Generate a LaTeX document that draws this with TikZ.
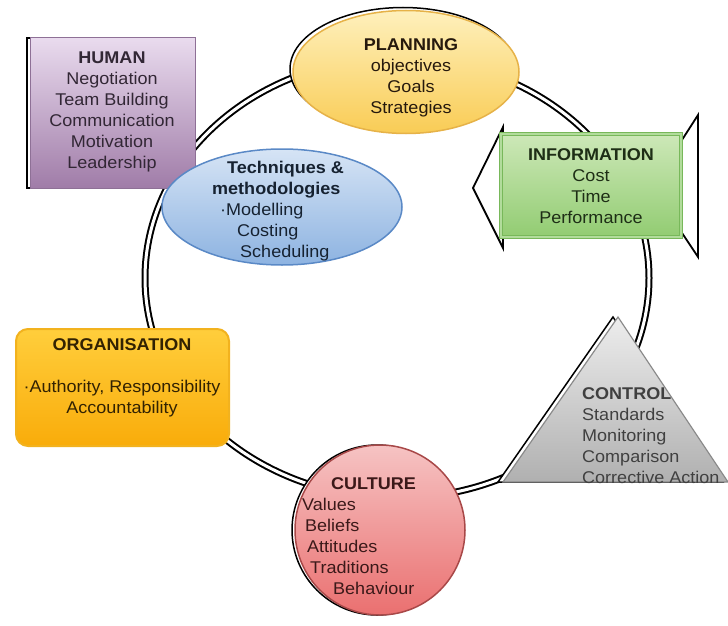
\documentclass[tikz,border=0pt]{standalone}
\usepackage{fontspec}
\setmainfont{Liberation Sans}[FakeStretch=1.06]
\usepackage{xcolor}
\usetikzlibrary{positioning,shapes.geometric,shadows}

\definecolor{humantop}{HTML}{E9DBEE}
\definecolor{humanbot}{HTML}{A07CA8}
\definecolor{humanedge}{HTML}{8E7096}
\definecolor{plantop}{HTML}{FEF0BC}
\definecolor{planbot}{HTML}{F9CC55}
\definecolor{planedge}{HTML}{E6B248}
\definecolor{infotop}{HTML}{CDE8B8}
\definecolor{infobot}{HTML}{92CC72}
\definecolor{infoedge}{HTML}{78B85A}
\definecolor{infolight}{HTML}{B2DC9C}
\definecolor{techtop}{HTML}{D6E4F5}
\definecolor{techbot}{HTML}{8DB3E1}
\definecolor{techedge}{HTML}{5A89C6}
\definecolor{orgtop}{HTML}{FFCE3C}
\definecolor{orgbot}{HTML}{F9AC0A}
\definecolor{orgedge}{HTML}{F2B21E}
\definecolor{cultop}{HTML}{F6C3C3}
\definecolor{culbot}{HTML}{EA7070}
\definecolor{culedge}{HTML}{A84848}
\definecolor{ctrltop}{HTML}{EDEDED}
\definecolor{ctrlbot}{HTML}{B0B0B0}
\definecolor{ctrledge}{HTML}{8A8A8A}

\begin{document}
\begin{tikzpicture}[x=1pt,y=-1pt,font=\fontsize{17}{21}\selectfont]
    \useasboundingbox (0,0) rectangle (728,626);

    % the cycle
    \node[ellipse,draw=black,double=white,line width=2pt,double distance=3pt,
          minimum width=504pt,minimum height=440pt,inner sep=0pt] (ring) at (397,278) {};

    % brackets either side of the information box
    \draw[line width=1.8pt,fill=white] (503,127) -- (473,188) -- (503,248) -- cycle;
    \draw[line width=1.8pt,fill=white] (680,143) -- (698,115) -- (698,257) -- (680,230) -- cycle;

    % control pyramid
    \draw[draw=ctrledge,line width=1.2pt,top color=ctrltop,bottom color=ctrlbot,
          copy shadow={shadow xshift=-5pt,shadow yshift=0pt,opacity=1,fill=white,draw=black,line width=1.5pt}]
        (618,317) -- (728,482) -- (503,482) -- cycle;

    \begin{scope}[every node/.style={inner sep=0pt}]
        \node[draw=humanedge,line width=1pt,top color=humantop,bottom color=humanbot,
              minimum width=165pt,minimum height=150pt,
              copy shadow={shadow xshift=-3pt,shadow yshift=0pt,opacity=1,fill=white,draw=black,line width=2pt}]
            (human) at (112.5,113) {};
        \node[ellipse,draw=planedge,line width=1.5pt,top color=plantop,bottom color=planbot,
              minimum width=226pt,minimum height=123pt,
              copy shadow={shadow xshift=-3pt,shadow yshift=3pt,opacity=1,fill=white,draw=black,line width=1.5pt}]
            (planning) at (406,72) {};
        \node[draw=infoedge,double=infolight,line width=1pt,double distance=2.5pt,
              top color=infotop,bottom color=infobot,
              minimum width=180pt,minimum height=103pt] (information) at (591,185.5) {};
        \node[ellipse,draw=techedge,line width=1.5pt,top color=techtop,bottom color=techbot,
              minimum width=240pt,minimum height=116pt] (techniques) at (282,207) {};
        \node[draw=orgedge,line width=2pt,rounded corners=12pt,top color=orgtop,bottom color=orgbot,
              minimum width=213pt,minimum height=117pt] (organisation) at (122.5,387.5) {};
        \node[circle,draw=culedge,line width=1.5pt,top color=cultop,bottom color=culbot,
              minimum size=170pt,
              copy shadow={shadow xshift=-3pt,shadow yshift=0pt,opacity=1,fill=white,draw=black,line width=1.5pt}]
            (culture) at (380,530) {};
    \end{scope}

    \begin{scope}[every node/.style={inner sep=0pt,align=center}]
        \node[text=humanedge!35!black] (human text) at (112,112)
            {\textbf{HUMAN}\\Negotiation\hspace*{18pt}\\Team Building\\Communication\\Motivation\\Leadership};
        \node[text=black!80!brown] (planning text) at (411,78)
            {\textbf{PLANNING}\\objectives\\Goals\\Strategies};
        \node[text=infoedge!25!black] (information text) at (591,186)
            {\textbf{INFORMATION}\\Cost\\Time\\Performance};
        \node[text=techedge!25!black,anchor=west,align=left] (techniques text) at (212,211)
            {\hspace*{15pt}\textbf{Techniques \&}\\\textbf{methodologies}\\\hspace*{8pt}·Modelling\\
             \hspace*{25pt}Costing\\\hspace*{28pt}Scheduling};
        \node[text=orgbot!20!black] (organisation text) at (122,378)
            {\textbf{ORGANISATION}\\[21pt]·Authority, Responsibility\\Accountability};
        \node[text=culedge!35!black,anchor=west,align=left] (culture text) at (302,536)
            {\hspace*{29pt}\textbf{CULTURE}\\Values\\\hspace*{3pt}Beliefs\\\hspace*{5pt}Attitudes\\
             \hspace*{8pt}Traditions\\\hspace*{31pt}Behaviour};
        \node[text=black!75,anchor=west,align=left] (control text) at (582,436)
            {\textbf{CONTROL}\\Standards\\Monitoring\\Comparison\\Corrective Action};
    \end{scope}
\end{tikzpicture}
\end{document}
